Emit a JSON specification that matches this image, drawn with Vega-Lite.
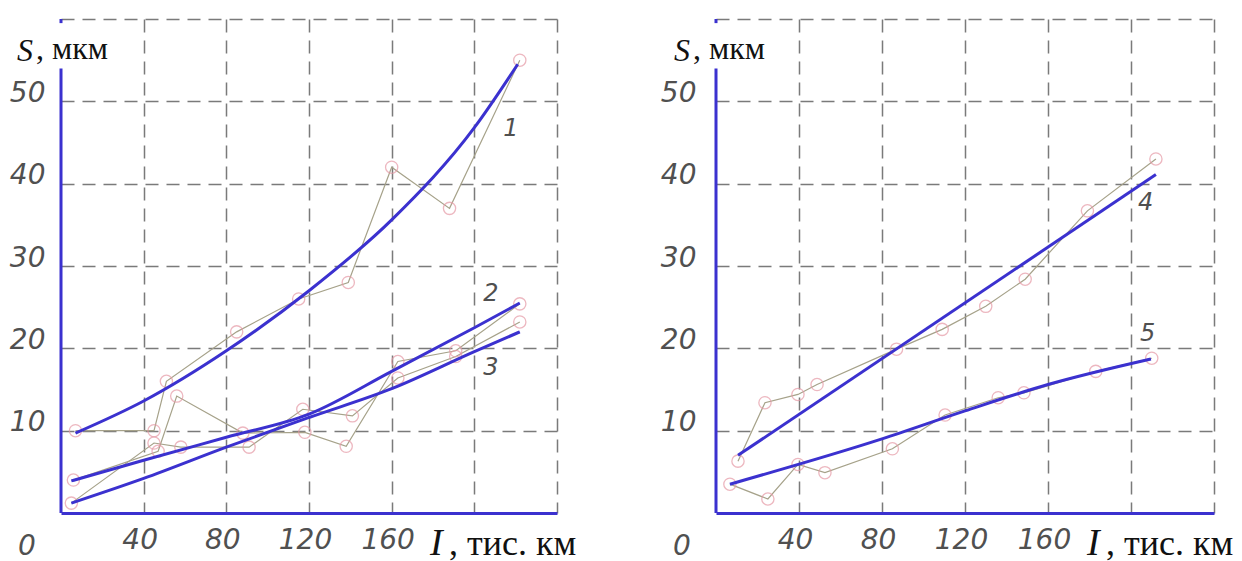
{
  "$schema": "https://vega.github.io/schema/vega-lite/v6.json",
  "background": "white",
  "padding": {"left": 9, "top": 17, "right": 0, "bottom": 0},
  "spacing": 159,
  "bounds": "flush",
  "config": {
    "view": {"stroke": null},
    "axis": {
      "grid": true, "gridDash": [13, 8], "gridColor": "#7a7a7a", "gridWidth": 1.5,
      "ticks": false, "title": null,
      "labelFont": "DejaVu Sans", "labelFontStyle": "italic", "labelFontWeight": 200,
      "labelColor": "#505050", "labelFlush": false, "labelOverlap": false
    }
  },
  "datasets": {
    "pts": [
      {"p": "a", "s": "1", "i": 1, "x": 7, "y": 10},
      {"p": "a", "s": "1", "i": 2, "x": 45, "y": 10},
      {"p": "a", "s": "1", "i": 3, "x": 51, "y": 16},
      {"p": "a", "s": "1", "i": 4, "x": 85, "y": 22},
      {"p": "a", "s": "1", "i": 5, "x": 115, "y": 26},
      {"p": "a", "s": "1", "i": 6, "x": 139, "y": 28},
      {"p": "a", "s": "1", "i": 7, "x": 160, "y": 42},
      {"p": "a", "s": "1", "i": 8, "x": 188, "y": 37},
      {"p": "a", "s": "1", "i": 9, "x": 222, "y": 55},
      {"p": "a", "s": "2", "i": 1, "x": 6, "y": 4},
      {"p": "a", "s": "2", "i": 2, "x": 47, "y": 7.5},
      {"p": "a", "s": "2", "i": 3, "x": 56, "y": 14.2},
      {"p": "a", "s": "2", "i": 4, "x": 88, "y": 9.7},
      {"p": "a", "s": "2", "i": 5, "x": 118, "y": 9.8},
      {"p": "a", "s": "2", "i": 6, "x": 138, "y": 8.1},
      {"p": "a", "s": "2", "i": 7, "x": 163, "y": 18.4},
      {"p": "a", "s": "2", "i": 8, "x": 191, "y": 19.7},
      {"p": "a", "s": "2", "i": 9, "x": 222, "y": 25.4},
      {"p": "a", "s": "3", "i": 1, "x": 5, "y": 1.2},
      {"p": "a", "s": "3", "i": 2, "x": 45, "y": 8.5},
      {"p": "a", "s": "3", "i": 3, "x": 58, "y": 8.0},
      {"p": "a", "s": "3", "i": 4, "x": 91, "y": 8.0},
      {"p": "a", "s": "3", "i": 5, "x": 117, "y": 12.6},
      {"p": "a", "s": "3", "i": 6, "x": 141, "y": 11.8},
      {"p": "a", "s": "3", "i": 7, "x": 163, "y": 16.4},
      {"p": "a", "s": "3", "i": 8, "x": 191, "y": 19.0},
      {"p": "a", "s": "3", "i": 9, "x": 222, "y": 23.2},
      {"p": "b", "s": "4", "i": 1, "x": 10.6, "y": 6.3},
      {"p": "b", "s": "4", "i": 2, "x": 23.6, "y": 13.4},
      {"p": "b", "s": "4", "i": 3, "x": 39.5, "y": 14.4},
      {"p": "b", "s": "4", "i": 4, "x": 48.7, "y": 15.6},
      {"p": "b", "s": "4", "i": 5, "x": 87, "y": 19.9},
      {"p": "b", "s": "4", "i": 6, "x": 109, "y": 22.3},
      {"p": "b", "s": "4", "i": 7, "x": 130, "y": 25.1},
      {"p": "b", "s": "4", "i": 8, "x": 149, "y": 28.4},
      {"p": "b", "s": "4", "i": 9, "x": 179, "y": 36.7},
      {"p": "b", "s": "4", "i": 10, "x": 212, "y": 43},
      {"p": "b", "s": "5", "i": 1, "x": 6.7, "y": 3.5},
      {"p": "b", "s": "5", "i": 2, "x": 25, "y": 1.7},
      {"p": "b", "s": "5", "i": 3, "x": 39.5, "y": 5.9},
      {"p": "b", "s": "5", "i": 4, "x": 52.5, "y": 4.9},
      {"p": "b", "s": "5", "i": 5, "x": 85, "y": 7.8},
      {"p": "b", "s": "5", "i": 6, "x": 110.4, "y": 11.9},
      {"p": "b", "s": "5", "i": 7, "x": 136, "y": 14},
      {"p": "b", "s": "5", "i": 8, "x": 148.4, "y": 14.6},
      {"p": "b", "s": "5", "i": 9, "x": 183, "y": 17.2},
      {"p": "b", "s": "5", "i": 10, "x": 210, "y": 18.8}
    ],
    "fit": [
      {"p": "a", "s": "1", "x": 7, "y": 9.7},
      {"p": "a", "s": "1", "x": 40, "y": 13.6},
      {"p": "a", "s": "1", "x": 80, "y": 19.7},
      {"p": "a", "s": "1", "x": 120, "y": 27},
      {"p": "a", "s": "1", "x": 160, "y": 35.6},
      {"p": "a", "s": "1", "x": 200, "y": 46.8},
      {"p": "a", "s": "1", "x": 221, "y": 54.5},
      {"p": "a", "s": "2", "x": 5, "y": 3.9},
      {"p": "a", "s": "2", "x": 40, "y": 6.4},
      {"p": "a", "s": "2", "x": 80, "y": 9.2},
      {"p": "a", "s": "2", "x": 120, "y": 12},
      {"p": "a", "s": "2", "x": 160, "y": 17.2},
      {"p": "a", "s": "2", "x": 200, "y": 22.5},
      {"p": "a", "s": "2", "x": 222, "y": 25.5},
      {"p": "a", "s": "3", "x": 5, "y": 1.2},
      {"p": "a", "s": "3", "x": 40, "y": 4.2},
      {"p": "a", "s": "3", "x": 80, "y": 8},
      {"p": "a", "s": "3", "x": 120, "y": 11.6},
      {"p": "a", "s": "3", "x": 160, "y": 15.1},
      {"p": "a", "s": "3", "x": 200, "y": 19.6},
      {"p": "a", "s": "3", "x": 222, "y": 22},
      {"p": "b", "s": "4", "x": 10.6, "y": 7.0},
      {"p": "b", "s": "4", "x": 212, "y": 41.1},
      {"p": "b", "s": "5", "x": 6.7, "y": 3.5},
      {"p": "b", "s": "5", "x": 80, "y": 9.0},
      {"p": "b", "s": "5", "x": 120, "y": 12.4},
      {"p": "b", "s": "5", "x": 160, "y": 15.6},
      {"p": "b", "s": "5", "x": 209.6, "y": 18.7}
    ],
    "lab": [
      {"p": "a", "t": "1", "x": 217.7, "y": 46.7},
      {"p": "a", "t": "2", "x": 208, "y": 26.6},
      {"p": "a", "t": "3", "x": 208, "y": 17.6},
      {"p": "b", "t": "4", "x": 207, "y": 37.6},
      {"p": "b", "t": "5", "x": 208, "y": 21.7}
    ]
  },
  "hconcat": [
    {
      "width": 496, "height": 494,
      "layer": [
        {
          "data": {"name": "pts"}, "transform": [{"filter": "datum.p == 'a'"}],
          "mark": {"type": "line", "color": "#a6a28a", "strokeWidth": 1.2},
          "encoding": {
            "x": {"field": "x", "type": "quantitative", "scale": {"domain": [0, 240], "nice": false},
              "axis": {"values": [40, 80, 120, 160, 200, 240], "labelExpr": "datum.value <= 160 ? datum.label : ''",
                "labelFontSize": {"condition": {"test": "datum.value > 160", "value": 0}, "value": 28},
                "domain": true, "domainColor": "#3b31cf", "domainWidth": 3, "labelPadding": 13, "labelOffset": -4}},
            "y": {"field": "y", "type": "quantitative", "scale": {"domain": [0, 60], "nice": false},
              "axis": {"values": [10, 20, 30, 40, 50, 60], "labelExpr": "datum.value <= 50 ? datum.label : ''",
                "labelFontSize": {"condition": {"test": "datum.value > 50", "value": 0}, "value": 28},
                "domain": false, "labelBaseline": "alphabetic", "labelPadding": 16}},
            "detail": {"field": "s"}, "order": {"field": "i"}
          }
        },
        {
          "data": {"name": "pts"}, "transform": [{"filter": "datum.p == 'a'"}],
          "mark": {"type": "point", "shape": "circle", "filled": false, "stroke": "#e69aa6", "strokeWidth": 1.3, "size": 150},
          "encoding": {"x": {"field": "x", "type": "quantitative"}, "y": {"field": "y", "type": "quantitative"}}
        },
        {
          "data": {"name": "fit"}, "transform": [{"filter": "datum.p == 'a'"}],
          "mark": {"type": "line", "color": "#3b31cf", "strokeWidth": 3, "interpolate": "monotone"},
          "encoding": {"x": {"field": "x", "type": "quantitative"}, "y": {"field": "y", "type": "quantitative"}, "detail": {"field": "s"}}
        },
        {
          "data": {"values": [{}]},
          "mark": {"type": "rule", "color": "#3b31cf", "strokeWidth": 3},
          "encoding": {"x": {"datum": 0, "type": "quantitative"}, "y": {"datum": 0, "type": "quantitative"}, "y2": {"datum": 54}}
        },
        {
          "data": {"values": [{}]},
          "mark": {"type": "rule", "color": "#3b31cf", "strokeWidth": 3},
          "encoding": {"x": {"datum": 0, "type": "quantitative"}, "y": {"datum": 59.5, "type": "quantitative"}, "y2": {"datum": 60}}
        },
        {
          "data": {"name": "lab"}, "transform": [{"filter": "datum.p == 'a'"}],
          "mark": {"type": "text", "font": "DejaVu Sans", "fontStyle": "italic", "fontSize": 24, "fontWeight": 200, "color": "#505050"},
          "encoding": {"x": {"field": "x", "type": "quantitative"}, "y": {"field": "y", "type": "quantitative"}, "text": {"field": "t"}}
        },
        {
          "data": {"values": [{}]},
          "mark": {"type": "text", "text": "0", "font": "DejaVu Sans", "fontStyle": "italic", "fontSize": 28, "fontWeight": 200, "color": "#505050", "align": "center", "baseline": "alphabetic", "dx": -34, "dy": 42},
          "encoding": {"x": {"datum": 0, "type": "quantitative"}, "y": {"datum": 0, "type": "quantitative"}}
        },
        {
          "data": {"values": [{}]},
          "mark": {"type": "text", "text": "S", "font": "Liberation Serif", "fontStyle": "italic", "fontSize": 32, "color": "#111111", "align": "left", "baseline": "alphabetic", "dx": -44, "dy": 42},
          "encoding": {"x": {"datum": 0, "type": "quantitative"}, "y": {"datum": 60, "type": "quantitative"}}
        },
        {
          "data": {"values": [{}]},
          "mark": {"type": "text", "text": ", мкм", "font": "Liberation Serif", "fontSize": 32, "color": "#111111", "align": "left", "baseline": "alphabetic", "dx": -25, "dy": 40},
          "encoding": {"x": {"datum": 0, "type": "quantitative"}, "y": {"datum": 60, "type": "quantitative"}}
        },
        {
          "data": {"values": [{}]},
          "mark": {"type": "text", "text": "I", "font": "Liberation Serif", "fontStyle": "italic", "fontSize": 38, "color": "#111111", "align": "left", "baseline": "alphabetic", "dx": 369, "dy": 42},
          "encoding": {"x": {"datum": 0, "type": "quantitative"}, "y": {"datum": 0, "type": "quantitative"}}
        },
        {
          "data": {"values": [{}]},
          "mark": {"type": "text", "text": ", тис. км", "font": "Liberation Serif", "fontSize": 36, "color": "#111111", "align": "left", "baseline": "alphabetic", "dx": 388, "dy": 42},
          "encoding": {"x": {"datum": 0, "type": "quantitative"}, "y": {"datum": 0, "type": "quantitative"}}
        }
      ]
    },
    {
      "width": 498, "height": 494,
      "layer": [
        {
          "data": {"name": "pts"}, "transform": [{"filter": "datum.p == 'b'"}],
          "mark": {"type": "line", "color": "#a6a28a", "strokeWidth": 1.2},
          "encoding": {
            "x": {"field": "x", "type": "quantitative", "scale": {"domain": [0, 240], "nice": false},
              "axis": {"values": [40, 80, 120, 160, 200, 240], "labelExpr": "datum.value <= 160 ? datum.label : ''",
                "labelFontSize": {"condition": {"test": "datum.value > 160", "value": 0}, "value": 28},
                "domain": true, "domainColor": "#3b31cf", "domainWidth": 3, "labelPadding": 13, "labelOffset": -4}},
            "y": {"field": "y", "type": "quantitative", "scale": {"domain": [0, 60], "nice": false},
              "axis": {"values": [10, 20, 30, 40, 50, 60], "labelExpr": "datum.value <= 50 ? datum.label : ''",
                "labelFontSize": {"condition": {"test": "datum.value > 50", "value": 0}, "value": 28},
                "domain": false, "labelBaseline": "alphabetic", "labelPadding": 20}},
            "detail": {"field": "s"}, "order": {"field": "i"}
          }
        },
        {
          "data": {"name": "pts"}, "transform": [{"filter": "datum.p == 'b'"}],
          "mark": {"type": "point", "shape": "circle", "filled": false, "stroke": "#e69aa6", "strokeWidth": 1.3, "size": 150},
          "encoding": {"x": {"field": "x", "type": "quantitative"}, "y": {"field": "y", "type": "quantitative"}}
        },
        {
          "data": {"name": "fit"}, "transform": [{"filter": "datum.p == 'b'"}],
          "mark": {"type": "line", "color": "#3b31cf", "strokeWidth": 3, "interpolate": "monotone"},
          "encoding": {"x": {"field": "x", "type": "quantitative"}, "y": {"field": "y", "type": "quantitative"}, "detail": {"field": "s"}}
        },
        {
          "data": {"values": [{}]},
          "mark": {"type": "rule", "color": "#3b31cf", "strokeWidth": 3},
          "encoding": {"x": {"datum": 0, "type": "quantitative"}, "y": {"datum": 0, "type": "quantitative"}, "y2": {"datum": 54}}
        },
        {
          "data": {"values": [{}]},
          "mark": {"type": "rule", "color": "#3b31cf", "strokeWidth": 3},
          "encoding": {"x": {"datum": 0, "type": "quantitative"}, "y": {"datum": 59.5, "type": "quantitative"}, "y2": {"datum": 60}}
        },
        {
          "data": {"name": "lab"}, "transform": [{"filter": "datum.p == 'b'"}],
          "mark": {"type": "text", "font": "DejaVu Sans", "fontStyle": "italic", "fontSize": 24, "fontWeight": 200, "color": "#505050"},
          "encoding": {"x": {"field": "x", "type": "quantitative"}, "y": {"field": "y", "type": "quantitative"}, "text": {"field": "t"}}
        },
        {
          "data": {"values": [{}]},
          "mark": {"type": "text", "text": "0", "font": "DejaVu Sans", "fontStyle": "italic", "fontSize": 28, "fontWeight": 200, "color": "#505050", "align": "center", "baseline": "alphabetic", "dx": -34, "dy": 42},
          "encoding": {"x": {"datum": 0, "type": "quantitative"}, "y": {"datum": 0, "type": "quantitative"}}
        },
        {
          "data": {"values": [{}]},
          "mark": {"type": "text", "text": "S", "font": "Liberation Serif", "fontStyle": "italic", "fontSize": 32, "color": "#111111", "align": "left", "baseline": "alphabetic", "dx": -42, "dy": 42},
          "encoding": {"x": {"datum": 0, "type": "quantitative"}, "y": {"datum": 60, "type": "quantitative"}}
        },
        {
          "data": {"values": [{}]},
          "mark": {"type": "text", "text": ", мкм", "font": "Liberation Serif", "fontSize": 32, "color": "#111111", "align": "left", "baseline": "alphabetic", "dx": -23, "dy": 40},
          "encoding": {"x": {"datum": 0, "type": "quantitative"}, "y": {"datum": 60, "type": "quantitative"}}
        },
        {
          "data": {"values": [{}]},
          "mark": {"type": "text", "text": "I", "font": "Liberation Serif", "fontStyle": "italic", "fontSize": 38, "color": "#111111", "align": "left", "baseline": "alphabetic", "dx": 371, "dy": 42},
          "encoding": {"x": {"datum": 0, "type": "quantitative"}, "y": {"datum": 0, "type": "quantitative"}}
        },
        {
          "data": {"values": [{}]},
          "mark": {"type": "text", "text": ", тис. км", "font": "Liberation Serif", "fontSize": 36, "color": "#111111", "align": "left", "baseline": "alphabetic", "dx": 390, "dy": 42},
          "encoding": {"x": {"datum": 0, "type": "quantitative"}, "y": {"datum": 0, "type": "quantitative"}}
        }
      ]
    }
  ]
}
